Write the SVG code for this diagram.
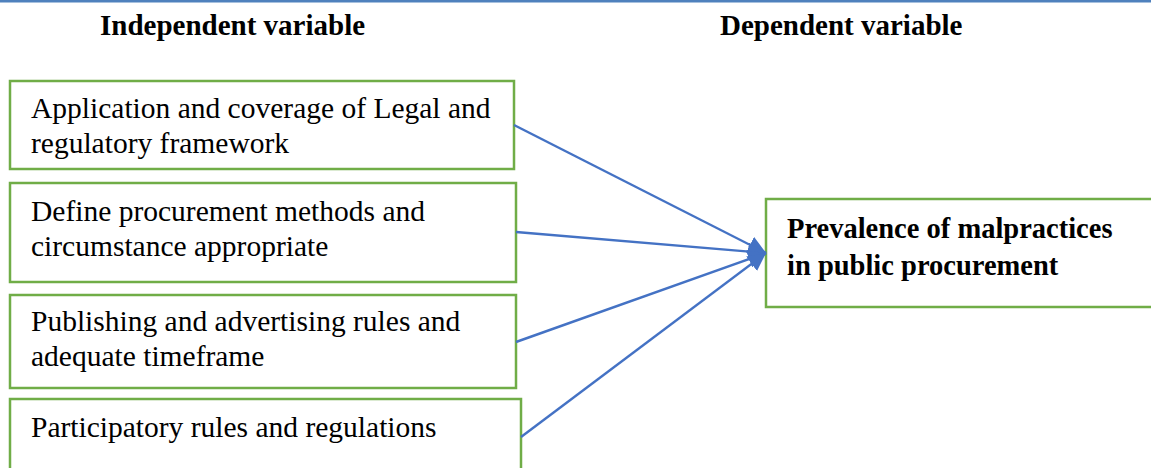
<svg xmlns="http://www.w3.org/2000/svg" width="1151" height="468" viewBox="0 0 1151 468">
  <style>
    .head { font-family: "Liberation Serif", "Times New Roman", serif; font-weight: bold; font-size: 29px; fill: #000; }
    .box { fill: #fff; stroke: #70AD47; stroke-width: 2.5; }
    .label { font-family: "Liberation Serif", "Times New Roman", serif; font-size: 29.5px; fill: #000; }
    .label-bold { font-family: "Liberation Serif", "Times New Roman", serif; font-weight: bold; font-size: 28.5px; fill: #000; }
    .conn { stroke: #4472C4; stroke-width: 2.4; fill: none; marker-end: url(#arrow); }
  </style>
  <defs>
    <marker id="arrow" viewBox="0 0 10 10" refX="10" refY="5" markerWidth="7.5" markerHeight="7.5" orient="auto" markerUnits="strokeWidth">
      <path d="M0,0 L10,5 L0,10 Z" fill="#4472C4"/>
    </marker>
  </defs>

  <rect width="1151" height="468" fill="#fff"/>
  <!-- top rule -->
  <rect x="0" y="0" width="1151" height="2.5" fill="#4F81BD"/>

  <!-- column headings -->
  <text class="head" x="100" y="35">Independent variable</text>
  <text class="head" x="720" y="35">Dependent variable</text>

  <g id="node-legal">
    <rect class="box" x="10" y="81" width="504" height="88"/>
    <text class="label" x="31" y="118">Application and coverage of Legal and</text>
    <text class="label" x="31" y="153">regulatory framework</text>
  </g>

  <g id="node-methods">
    <rect class="box" x="10" y="183" width="506" height="99"/>
    <text class="label" x="31" y="221">Define procurement methods and</text>
    <text class="label" x="31" y="256">circumstance appropriate</text>
  </g>

  <g id="node-publishing">
    <rect class="box" x="10" y="295" width="506" height="93"/>
    <text class="label" x="31" y="331">Publishing and advertising rules and</text>
    <text class="label" x="31" y="366">adequate timeframe</text>
  </g>

  <g id="node-participatory">
    <rect class="box" x="10" y="399" width="511" height="80"/>
    <text class="label" x="31" y="437">Participatory rules and regulations</text>
  </g>

  <g id="node-malpractice">
    <rect class="box" x="766" y="199" width="390" height="108"/>
    <text class="label-bold" x="787" y="238">Prevalence of malpractices</text>
    <text class="label-bold" x="787" y="275">in public procurement</text>
  </g>

  <g id="connectors">
    <line class="conn" x1="514" y1="125" x2="766" y2="253"/>
    <line class="conn" x1="516" y1="232" x2="766" y2="253"/>
    <line class="conn" x1="516" y1="342" x2="766" y2="253"/>
    <line class="conn" x1="521" y1="437" x2="766" y2="253"/>
  </g>
</svg>
